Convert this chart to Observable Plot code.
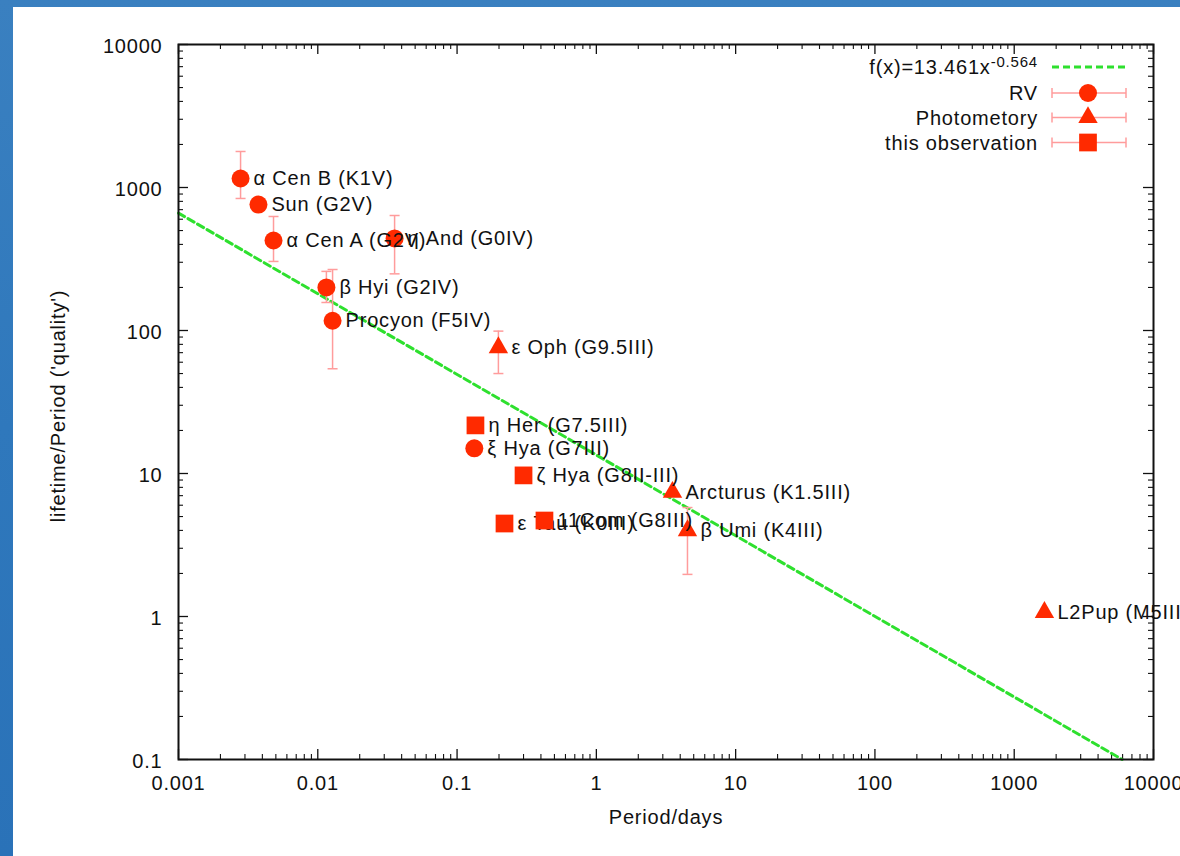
<!DOCTYPE html>
<html>
<head>
<meta charset="utf-8">
<script src="https://cdn.jsdelivr.net/npm/d3@7"></script>
<script src="https://cdn.jsdelivr.net/npm/@observablehq/plot@0.6"></script>
<style>
  html, body { margin: 0; padding: 0; overflow: hidden; }
  body { width: 1180px; height: 856px; background: linear-gradient(180deg, #3a80c0 0%, #2f78bc 50%, #2a72b8 100%); position: relative; }
  #panel { position: absolute; left: 13px; top: 7px; right: 0; bottom: 0; background: #ffffff; }
  #chart { position: absolute; left: 0; top: 0; width: 1180px; height: 856px; }
</style>
</head>
<body>
<div id="panel"></div>
<div id="chart"></div>
<script>
// ---------------- data ----------------
const names = [
  "α Cen B (K1V)", "Sun (G2V)", "α Cen A (G2V)", "η And (G0IV)", "β Hyi (G2IV)",
  "Procyon (F5IV)", "ξ Hya (G7III)",
  "ε Oph (G9.5III)", "Arcturus (K1.5III)", "β Umi (K4III)", "L2Pup (M5III)",
  "η Her (G7.5III)", "ζ Hya (G8II-III)", "ε Tau (K0III)", "11Com (G8III)"
];
const methods = [
  "RV", "RV", "RV", "RV", "RV", "RV", "RV",
  "Photometory", "Photometory", "Photometory", "Photometory",
  "this observation", "this observation", "this observation", "this observation"
];
const periods = [0.00279, 0.00375, 0.00481, 0.0356, 0.01153, 0.01277, 0.133,
                 0.198, 3.52, 4.51, 1648,
                 0.1355, 0.30, 0.219, 0.424];
const quality = [1156, 760, 426, 440, 200, 117, 15,
                 76, 7.4, 3.99, 1.07,
                 21.7, 9.7, 4.47, 4.69];
const errLow  = [838, null, 304, 249, 157, 54, null,
                 50, null, 1.97, null,
                 null, null, null, null];
const errHigh = [1786, null, 627, 637, 259, 267, null,
                 99, null, 5.78, null,
                 null, null, null, null];

const xTickValues = [0.001, 0.01, 0.1, 1, 10, 100, 1000, 10000];
const xTickLabels = ["0.001", "0.01", "0.1", "1", "10", "100", "1000", "10000"];
const yTickValues = [0.1, 1, 10, 100, 1000, 10000];
const yTickLabels = ["0.1", "1", "10", "100", "1000", "10000"];

const fitA = 13.461;
const fitB = -0.564;
const fitLabel = "f(x)=13.461x";
const fitExponent = "-0.564";

const legendLabels = ["RV", "Photometory", "this observation"];
const xLabel = "Period/days";
const yLabel = "lifetime/Period ('quality')";

// ---------------- styles ----------------
const RED = "#ff2a00";
const PINK = "#ff9c9c";
const GREEN = "#2ee02e";
const INK = "#111111";
const FONT = "'Liberation Sans', Arial, Helvetica, sans-serif";
const FS = 20;

const W = 1180, H = 856;
const M = {left: 178, right: 27, top: 44, bottom: 97};
const frameW = W - M.left - M.right;
const frameH = H - M.top - M.bottom;
const majorLen = 10, minorLen = 5;

const stars = names.map((name, i) => ({
  name, method: methods[i], period: periods[i], q: quality[i], lo: errLow[i], hi: errHigh[i]
}));
const withErr = stars.filter(d => d.lo != null && d.hi != null);
const caps = withErr.flatMap(d => [{period: d.period, v: d.lo}, {period: d.period, v: d.hi}]);

// minor ticks (2..9 × each decade)
const xMinor = [], yMinor = [];
for (let e = -3; e < 4; e++) for (let k = 2; k <= 9; k++) xMinor.push(k * 10 ** e);
for (let e = -1; e < 4; e++) for (let k = 2; k <= 9; k++) yMinor.push(k * 10 ** e);

// fit line: from left edge of the domain down to where it leaves at y = 0.1
const fitX = [xTickValues[0], Math.pow(yTickValues[0] / fitA, 1 / fitB)];
const fitData = fitX.map(x => ({x, y: fitA * Math.pow(x, fitB)}));

const capSymbol = {draw(ctx) { ctx.moveTo(-5, 0); ctx.lineTo(5, 0); }};
const symbolFor = {RV: d3.symbolCircle, Photometory: d3.symbolTriangle, "this observation": d3.symbolSquare};
const rFor = {RV: 9, Photometory: 7.2, "this observation": 10};

const byMethod = m => stars.filter(d => d.method === m);

const textOpts = {fontSize: FS, fill: INK, fontFamily: FONT};

function legendMark(index, scales, values, dimensions) {
  const dims = dimensions || {width: W, marginRight: M.right, marginTop: M.top};
  const right = dims.width - dims.marginRight;
  const top = dims.marginTop;
  const tx = right - 115, lx1 = right - 101, lx2 = right - 27, mx = right - 65;
  const g = d3.create("svg:g").attr("font-family", FONT).attr("font-size", FS).attr("fill", INK);
  // fit row
  const fy = top + 23;
  const t = g.append("text").attr("x", tx).attr("y", fy).attr("dy", "0.35em").attr("text-anchor", "end");
  t.append("tspan").text(fitLabel);
  t.append("tspan").attr("font-size", 15).attr("dy", "-0.45em").text(fitExponent);
  g.append("line").attr("x1", lx1).attr("x2", lx2).attr("y1", fy).attr("y2", fy)
    .attr("stroke", GREEN).attr("stroke-width", 3).attr("stroke-dasharray", "7,4");
  const rowY = [top + 49, top + 73.5, top + 98.5];
  legendLabels.forEach((lab, i) => {
    const y = rowY[i];
    g.append("text").attr("x", tx).attr("y", y).attr("dy", "0.35em").attr("text-anchor", "end").text(lab);
    g.append("line").attr("x1", lx1).attr("x2", lx2).attr("y1", y).attr("y2", y).attr("stroke", PINK).attr("stroke-width", 1.5);
    for (const xx of [lx1, lx2]) {
      g.append("line").attr("x1", xx).attr("x2", xx).attr("y1", y - 5).attr("y2", y + 5).attr("stroke", PINK).attr("stroke-width", 1.5);
    }
    const r = rFor[lab];
    g.append("path").attr("transform", `translate(${mx},${y})`)
      .attr("d", d3.symbol().type(symbolFor[lab]).size(r * r * Math.PI)())
      .attr("fill", RED);
  });
  return g.node();
}

const pointMarks = (m) => Plot.dot(byMethod(m), {
  x: "period", y: "q", r: rFor[m], symbol: symbolFor[m], fill: RED, stroke: "none"
});
const labelMarks = (m) => Plot.text(byMethod(m), {
  x: "period", y: "q", text: "name", dx: 13, textAnchor: "start", lineAnchor: "middle", ...textOpts
});

const chart = Plot.plot({
  width: W,
  height: H,
  marginLeft: M.left,
  marginRight: M.right,
  marginTop: M.top,
  marginBottom: M.bottom,
  style: {background: "transparent", fontFamily: FONT, fontSize: FS + "px", letterSpacing: "0.8px", overflow: "visible"},
  x: {type: "log", domain: [0.001, 10000], axis: null},
  y: {type: "log", domain: [0.1, 10000], axis: null},
  marks: [
    // inward ticks on all four sides
    Plot.ruleX(xTickValues, {x: d => d, insetTop: frameH - majorLen, stroke: INK, strokeWidth: 1.3}),
    Plot.ruleX(xTickValues, {x: d => d, insetBottom: frameH - majorLen, stroke: INK, strokeWidth: 1.3}),
    Plot.ruleX(xMinor, {x: d => d, insetTop: frameH - minorLen, stroke: INK, strokeWidth: 1.1}),
    Plot.ruleX(xMinor, {x: d => d, insetBottom: frameH - minorLen, stroke: INK, strokeWidth: 1.1}),
    Plot.ruleY(yTickValues, {y: d => d, insetRight: frameW - majorLen, stroke: INK, strokeWidth: 1.3}),
    Plot.ruleY(yTickValues, {y: d => d, insetLeft: frameW - majorLen, stroke: INK, strokeWidth: 1.3}),
    Plot.ruleY(yMinor, {y: d => d, insetRight: frameW - minorLen, stroke: INK, strokeWidth: 1.1}),
    Plot.ruleY(yMinor, {y: d => d, insetLeft: frameW - minorLen, stroke: INK, strokeWidth: 1.1}),
    // fit line
    Plot.line(fitData, {x: "x", y: "y", stroke: GREEN, strokeWidth: 3, strokeDasharray: "7,4"}),
    // error bars
    Plot.ruleX(withErr, {x: "period", y1: "lo", y2: "hi", stroke: PINK, strokeWidth: 1.5}),
    Plot.dot(caps, {x: "period", y: "v", symbol: capSymbol, stroke: PINK, strokeWidth: 1.5, fill: "none"}),
    // points and labels
    pointMarks("RV"),
    labelMarks("RV"),
    pointMarks("Photometory"),
    labelMarks("Photometory"),
    labelMarks("this observation"),
    pointMarks("this observation"),
    // frame
    Plot.frame({stroke: INK, strokeWidth: 2}),
    // tick labels
    Plot.text(xTickValues, {x: d => d, text: (d, i) => xTickLabels[i], frameAnchor: "bottom", dy: 24, lineAnchor: "middle", textAnchor: "middle", ...textOpts}),
    Plot.text(yTickValues, {y: d => d, text: (d, i) => yTickLabels[i], frameAnchor: "left", dx: -16, dy: 2, lineAnchor: "middle", textAnchor: "end", ...textOpts}),
    // axis labels
    Plot.text([xLabel], {text: d => d, frameAnchor: "bottom", dy: 58, lineAnchor: "middle", textAnchor: "middle", ...textOpts}),
    Plot.text([yLabel], {text: d => d, frameAnchor: "left", dx: -120, dy: 4, rotate: -90, lineAnchor: "middle", textAnchor: "middle", ...textOpts}),
    // legend
    legendMark
  ]
});
document.getElementById("chart").appendChild(chart);
</script>
</body>
</html>
